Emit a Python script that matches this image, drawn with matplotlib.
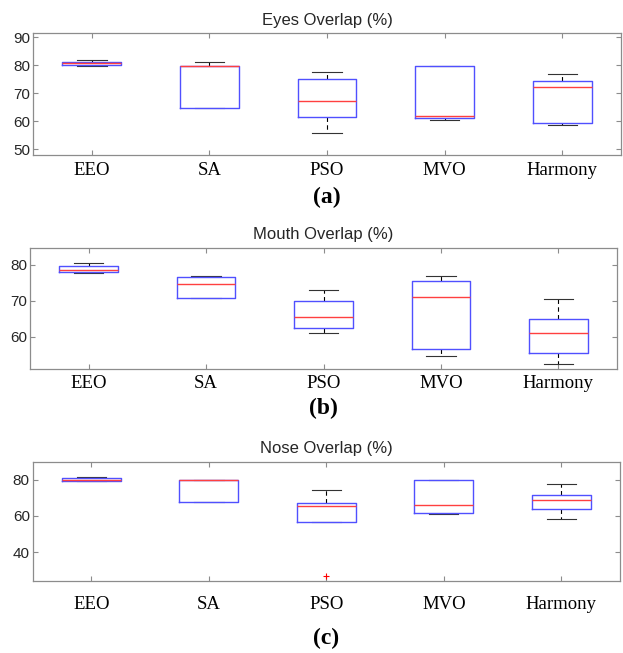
import matplotlib
matplotlib.use("Agg")
import matplotlib.pyplot as plt

# Box statistics
methods = ["EEO", "SA", "PSO", "MVO", "Harmony"]

eyes_whislo = [79.8, 64.8, 55.6, 60.4, 58.8]
eyes_q1 = [79.9, 64.8, 61.6, 61.0, 59.4]
eyes_med = [80.7, 79.7, 67.1, 61.8, 72.1]
eyes_q3 = [81.2, 79.7, 75.2, 79.7, 74.2]
eyes_whishi = [81.8, 81.2, 77.7, 79.7, 76.7]
eyes_fliers = [[], [], [], [], []]

mouth_whislo = [77.8, 70.7, 61.1, 54.8, 52.5]
mouth_q1 = [78.1, 70.7, 62.6, 56.7, 55.5]
mouth_med = [78.6, 74.7, 65.6, 71.1, 61.0]
mouth_q3 = [79.7, 76.6, 70.0, 75.6, 65.1]
mouth_whishi = [80.6, 76.9, 73.0, 76.9, 70.4]
mouth_fliers = [[], [], [], [], []]

nose_whislo = [79.4, 67.5, 56.3, 60.9, 58.4]
nose_q1 = [79.4, 67.5, 56.3, 61.5, 63.9]
nose_med = [79.6, 79.6, 65.3, 65.7, 68.8]
nose_q3 = [80.9, 79.6, 66.8, 79.6, 71.7]
nose_whishi = [81.3, 79.6, 74.5, 79.6, 77.4]
nose_fliers = [[], [], [26.9], [], []]


def make_stats(lo, q1, med, q3, hi, fliers):
    return [
        dict(whislo=lo[i], q1=q1[i], med=med[i], q3=q3[i], whishi=hi[i], fliers=fliers[i])
        for i in range(len(methods))
    ]


panels = [
    dict(title="Eyes Overlap (%)", letter="(a)",
         stats=make_stats(eyes_whislo, eyes_q1, eyes_med, eyes_q3, eyes_whishi, eyes_fliers),
         ylim=(47.9, 91.4), yticks=[50, 60, 70, 80, 90],
         rect=[33, 33.3, 621, 155], title_y=21, letter_y=197, pad=5),
    dict(title="Mouth Overlap (%)", letter="(b)",
         stats=make_stats(mouth_whislo, mouth_q1, mouth_med, mouth_q3, mouth_whishi, mouth_fliers),
         ylim=(51.1, 84.7), yticks=[60, 70, 80],
         rect=[30, 248, 617, 369], title_y=235, letter_y=408, pad=4),
    dict(title="Nose Overlap (%)", letter="(c)",
         stats=make_stats(nose_whislo, nose_q1, nose_med, nose_q3, nose_whishi, nose_fliers),
         ylim=(24.0, 89.7), yticks=[40, 60, 80],
         rect=[32.6, 462, 620, 581], title_y=448, letter_y=638, pad=11),
]

W, H = 623, 653
fig = plt.figure(figsize=(W / 100, H / 100), dpi=100)

spine_col = "#8c8c8c"
text_col = "#262626"

for p in panels:
    x0, y0, x1, y1 = p["rect"]
    ax = fig.add_axes([x0 / W, 1 - y1 / H, (x1 - x0) / W, (y1 - y0) / H])
    bp = ax.bxp(
        p["stats"], positions=range(1, 6), widths=0.5, capwidths=0.25,
        boxprops=dict(color="#5050ff", linewidth=1.0),
        medianprops=dict(color="#ff4040", linewidth=1.0),
        whiskerprops=dict(color="black", linewidth=0.8, linestyle=(0, (4, 3))),
        capprops=dict(color="#333333", linewidth=0.8),
        flierprops=dict(marker="+", markeredgecolor="red", markersize=5, markeredgewidth=0.8),
    )
    # box outline sits on top of caps/whiskers, median on top of the box
    for ln in bp["whiskers"] + bp["caps"]:
        ln.set_zorder(2)
    for ln in bp["boxes"]:
        ln.set_zorder(3)
    for ln in bp["medians"]:
        ln.set_zorder(4)

    ax.set_xlim(0.5, 5.5)
    ax.set_ylim(*p["ylim"])
    ax.set_yticks(p["yticks"])
    ax.set_xticks(range(1, 6))
    ax.set_xticklabels(methods, fontfamily="Liberation Serif", fontsize=13.5, color="black")
    for lab in ax.get_yticklabels():
        lab.set_fontfamily("Liberation Sans")
        lab.set_fontsize(11)
        lab.set_color(text_col)
    ax.tick_params(axis="both", direction="in", top=True, right=True, length=3.5,
                   width=0.8, color=spine_col)
    ax.tick_params(axis="x", pad=p["pad"])
    ax.tick_params(axis="y", pad=2)
    for s in ax.spines.values():
        s.set_color(spine_col)
        s.set_linewidth(0.9)

    cx = (x0 + x1) / 2 / W
    fig.text(cx, 1 - p["title_y"] / H, p["title"], ha="center", va="center",
             fontfamily="Liberation Sans", fontsize=12, color=text_col)
    fig.text(cx, 1 - p["letter_y"] / H, p["letter"], ha="center", va="center",
             fontfamily="Liberation Serif", fontweight="bold", fontsize=17, color="black")

fig.savefig("out.png", dpi=100)
